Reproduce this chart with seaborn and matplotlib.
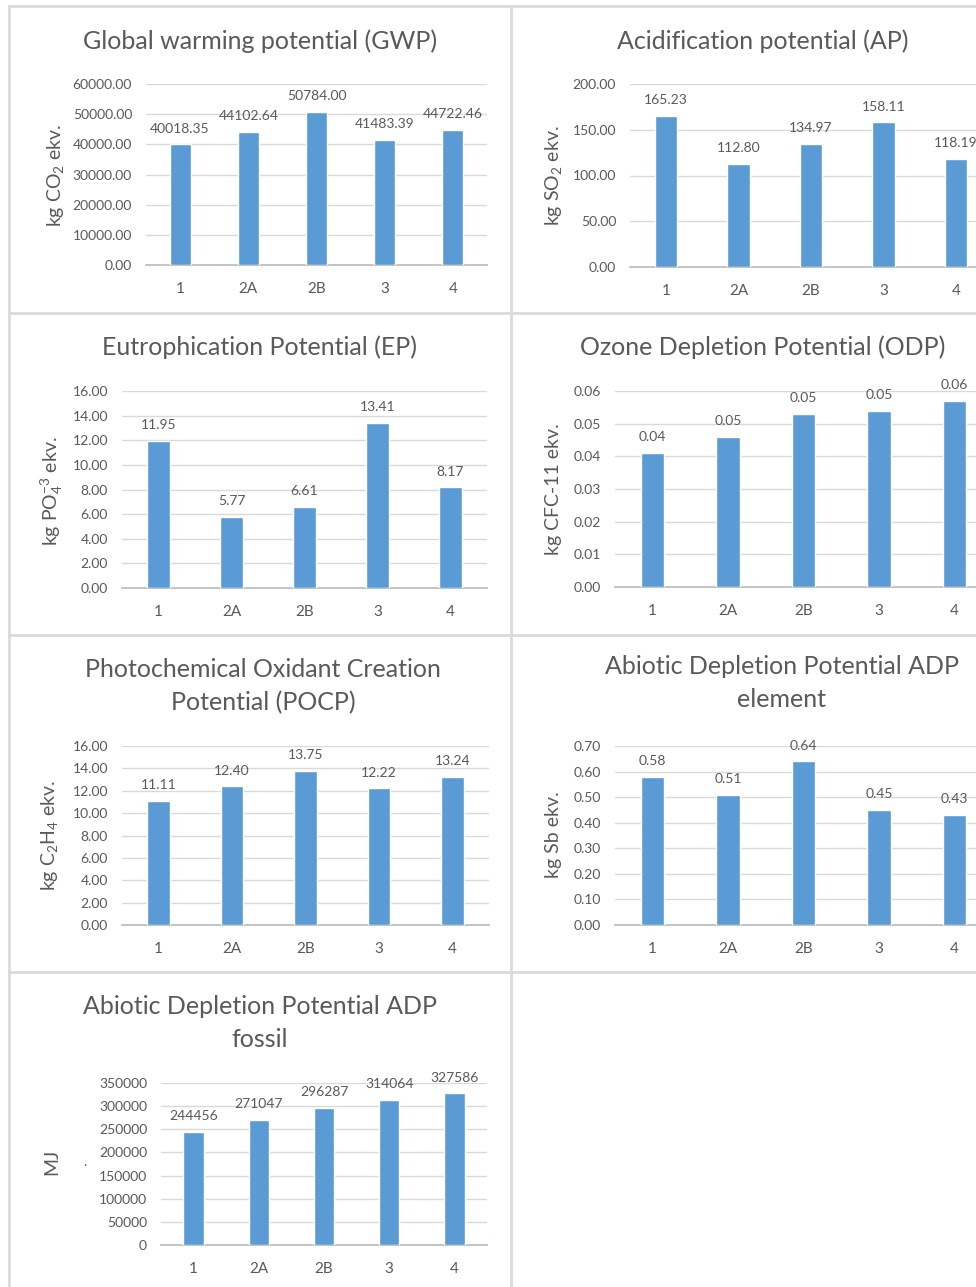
import matplotlib
matplotlib.use("Agg")
import matplotlib.pyplot as plt
from matplotlib.lines import Line2D
import seaborn as sns
import pandas as pd

# ---- data -------------------------------------------------------------
variants = ["1", "2A", "2B", "3", "4"]

gwp = [40018.35, 44102.64, 50784.00, 41483.39, 44722.46]
ap = [165.23, 112.80, 134.97, 158.11, 118.19]
ep = [11.95, 5.77, 6.61, 13.41, 8.17]
odp = [0.041, 0.046, 0.053, 0.054, 0.057]
pocp = [11.11, 12.40, 13.75, 12.22, 13.24]
adp_element = [0.58, 0.51, 0.64, 0.45, 0.43]
adp_fossil = [244456, 271047, 296287, 314064, 327586]

titles = [
    "Global warming potential (GWP)",
    "Acidification potential (AP)",
    "Eutrophication Potential (EP)",
    "Ozone Depletion Potential (ODP)",
    "Photochemical Oxidant Creation\nPotential (POCP)",
    "Abiotic Depletion Potential ADP\nelement",
    "Abiotic Depletion Potential ADP\nfossil",
]
ylabels = [
    r"kg CO$_{\mathregular{2}}$ ekv.",
    r"kg SO$_{\mathregular{2}}$ ekv.",
    r"kg PO$_{\mathregular{4}}^{\mathregular{-3}}$ ekv.",
    "kg CFC-11 ekv.",
    r"kg C$_{\mathregular{2}}$H$_{\mathregular{4}}$ ekv.",
    "kg Sb ekv.",
    "MJ",
]
y_max = [60000, 200, 16, 0.06, 16, 0.70, 350000]
y_step = [10000, 50, 2, 0.01, 2, 0.10, 50000]
tick_fmt = ["{:.2f}", "{:.2f}", "{:.2f}", "{:.2f}", "{:.2f}", "{:.2f}", "{:.0f}"]

# ---- style ------------------------------------------------------------
sns.set_theme(style="white")
plt.rcParams["font.family"] = ["Lato", "DejaVu Sans"]
plt.rcParams["mathtext.fontset"] = "custom"
plt.rcParams["mathtext.rm"] = "Lato"
plt.rcParams["mathtext.it"] = "Lato"
plt.rcParams["mathtext.bf"] = "Lato"

BAR = "#5B9BD5"
TXT = "#595959"
GRID = "#D9D9D9"
FRAME = "#DADADA"

W, H = 976, 1287
fig = plt.figure(figsize=(W / 100, H / 100), dpi=100)
fig.patch.set_facecolor("white")


def rect(x0, y0, x1, y1):
    return [x0 / W, 1 - y1 / H, (x1 - x0) / W, (y1 - y0) / H]


def fx(x):
    return x / W


def fy(y):
    return 1 - y / H


# panel frames (grid of chart boxes)
for xs, ys in [
    ((9, 9), (6, H + 5)),
    ((511, 511), (6, H + 5)),
    ((9, W + 5), (6, 6)),
    ((9, W + 5), (313, 313)),
    ((9, W + 5), (635, 635)),
    ((9, W + 5), (972, 972)),
]:
    fig.add_artist(Line2D([fx(xs[0]), fx(xs[1])], [fy(ys[0]), fy(ys[1])],
                          color=FRAME, lw=2.0))

# plot-area placement, title centre, y-label centre (pixels)
axes_px = [
    (146, 84, 487, 265),
    (630, 84, 992, 267),
    (122, 391, 487, 588),
    (615, 391, 992, 587),
    (122, 746, 489, 925),
    (615, 746, 992, 925),
    (161, 1083, 487, 1245),
]
title_px = [(260, 41), (763, 41), (260, 347), (763, 347),
            (263, 686), (782, 683), (260, 1023)]
ylabel_px = [(55, 175), (553, 176), (52, 491), (553, 489),
             (50, 836), (553, 835), (52, 1162)]

series = [gwp, ap, ep, odp, pocp, adp_element, adp_fossil]

for i, vals in enumerate(series):
    x0, y0, x1, y1 = axes_px[i]
    ax = fig.add_axes(rect(x0, y0, x1, y1))
    df = pd.DataFrame({"variant": variants, "value": vals})
    sns.barplot(data=df, x="variant", y="value", color=BAR, width=0.31,
                saturation=1, ax=ax, zorder=3)
    ax.set_ylim(0, y_max[i])
    n = int(round(y_max[i] / y_step[i]))
    ticks = [k * y_step[i] for k in range(n + 1)]
    ax.set_yticks(ticks)
    ax.set_yticklabels([tick_fmt[i].format(t) for t in ticks])
    ax.yaxis.grid(True, color=GRID, lw=1.0, zorder=0)
    ax.set_axisbelow(True)
    for s in ("left", "right", "top"):
        ax.spines[s].set_visible(False)
    ax.spines["bottom"].set_color("#BFBFBF")
    ax.spines["bottom"].set_linewidth(1.3)
    ax.tick_params(axis="both", length=0, colors=TXT)
    ax.tick_params(axis="y", labelsize=10, pad=10)
    ax.tick_params(axis="x", labelsize=11, pad=12)
    ax.set_xlabel("")
    ax.set_ylabel("")
    ax.bar_label(ax.containers[0],
                 labels=[tick_fmt[i].format(v) for v in vals],
                 padding=7, fontsize=10, color=TXT)

    tx, ty = title_px[i]
    fig.text(fx(tx), fy(ty), titles[i], ha="center", va="center",
             fontsize=18, color=TXT, linespacing=1.5)
    lx, ly = ylabel_px[i]
    fig.text(fx(lx), fy(ly), ylabels[i], ha="center", va="center",
             rotation=90, fontsize=14, color=TXT)

# small stray mark beside the MJ axis
fig.text(fx(85), fy(1162), ".", ha="center", va="center", fontsize=10, color=TXT)

fig.savefig("out.png", dpi=100, facecolor="white")
